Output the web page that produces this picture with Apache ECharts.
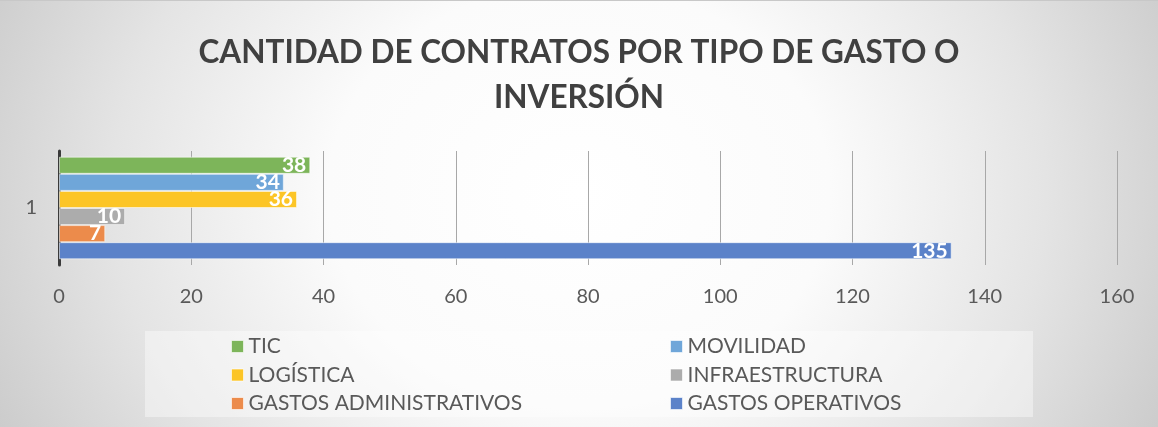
<!DOCTYPE html>
<html>
<head>
<meta charset="utf-8">
<script src="https://cdn.jsdelivr.net/npm/echarts@6/dist/echarts.min.js"></script>
<style>
html,body{margin:0;padding:0;}
#c{width:1158px;height:427px;
background: radial-gradient(ellipse 62% 140% at 50% 45%, #ffffff 0%, #fbfbfb 35%, #e4e4e4 65%, #c2c2c2 100%);
border-top:1px solid #c8c8c8; box-sizing:border-box;}
</style>
</head>
<body>
<div id="c"></div>
<script>
const titleText = 'CANTIDAD DE CONTRATOS POR TIPO DE GASTO O\nINVERSIÓN';
const categories = ['1'];
const seriesNames = ['TIC', 'MOVILIDAD', 'LOGÍSTICA', 'INFRAESTRUCTURA', 'GASTOS ADMINISTRATIVOS', 'GASTOS OPERATIVOS'];
const seriesValues = [38, 34, 36, 10, 7, 135];
const seriesColors = ['#7db55a', '#6fa6d9', '#fcc526', '#acacac', '#ec8b4b', '#5b82c9'];
const xTicks = [0, 20, 40, 60, 80, 100, 120, 140, 160];
const legendCol1 = ['TIC', 'LOGÍSTICA', 'GASTOS ADMINISTRATIVOS'];
const legendCol2 = ['MOVILIDAD', 'INFRAESTRUCTURA', 'GASTOS OPERATIVOS'];

const chart = echarts.init(document.getElementById('c'));
const font = 'Lato, "Open Sans", sans-serif';
const legendCommon = {
  orient: 'vertical', top: 330, icon: 'rect', itemWidth: 12, itemHeight: 12,
  itemGap: 7.5, selectedMode: false,
  itemStyle: { borderColor: 'rgba(255,255,255,0.6)', borderWidth: 1 },
  textStyle: { color: '#595959', fontSize: 21, fontFamily: font, lineHeight: 21, padding: [0,0,0,0] }
};
chart.setOption({
  backgroundColor: 'transparent',
  textStyle: { fontFamily: font },
  title: {
    text: titleText, left: 'center', top: 24,
    textStyle: { color: '#404040', fontSize: 31.5, fontWeight: 'bold', fontFamily: font, lineHeight: 45 }
  },
  graphic: [{
    type: 'rect', left: 145, top: 330, shape: { width: 888, height: 86 },
    style: { fill: 'rgba(255,255,255,0.4)' }, z: -1, silent: true
  }],
  legend: [
    Object.assign({}, legendCommon, { left: 226, data: legendCol1 }),
    Object.assign({}, legendCommon, { left: 665, data: legendCol2 })
  ],
  grid: { left: 59, right: 41, top: 150, bottom: 162 },
  xAxis: {
    type: 'value', min: xTicks[0], max: xTicks[xTicks.length - 1], interval: 20,
    axisLine: { show: false }, axisTick: { show: false },
    splitLine: { lineStyle: { color: '#a8a8a8', width: 1 } },
    axisLabel: { color: '#595959', fontSize: 20, fontFamily: font, margin: 22 }
  },
  yAxis: {
    type: 'category', data: categories, inverse: true,
    axisLine: { lineStyle: { color: '#3a3a3a', width: 3 } },
    axisTick: { show: false },
    axisLabel: { color: '#595959', fontSize: 20, fontFamily: font, margin: 22 }
  },
  series: seriesNames.map((name, i) => ({
    name: name, type: 'bar', data: [seriesValues[i]],
    barCategoryGap: '10%', barGap: '0%',
    itemStyle: { color: seriesColors[i], borderColor: 'rgba(255,255,255,0.55)', borderWidth: 1 },
    label: { show: true, position: 'insideRight', distance: 4, color: '#ffffff', fontSize: 21, fontWeight: 'bold', fontFamily: font }
  }))
});
</script>
</body>
</html>
